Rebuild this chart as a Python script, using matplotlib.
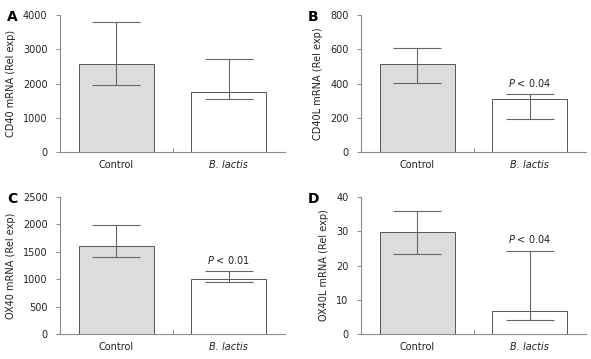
import matplotlib
matplotlib.use("Agg")
import matplotlib.pyplot as plt
import numpy as np

categories = ["Control", "B. lactis"]

# panel data: means, upper error bound, lower error bound
a_vals = [2570, 1740]
a_upper = [3800, 2720]
a_lower = [1960, 1560]

b_vals = [512, 310]
b_upper = [605, 338]
b_lower = [405, 195]

c_vals = [1610, 1010]
c_upper = [1980, 1150]
c_lower = [1410, 940]

d_vals = [29.7, 6.6]
d_upper = [36.0, 24.3]
d_lower = [23.4, 4.1]

panels = [
    ("A", "CD40 mRNA (Rel exp)", a_vals, a_upper, a_lower, 4000, [0, 1000, 2000, 3000, 4000], None),
    ("B", "CD40L mRNA (Rel exp)", b_vals, b_upper, b_lower, 800, [0, 200, 400, 600, 800], "$\\it{P}$ < 0.04"),
    ("C", "OX40 mRNA (Rel exp)", c_vals, c_upper, c_lower, 2500, [0, 500, 1000, 1500, 2000, 2500], "$\\it{P}$ < 0.01"),
    ("D", "OX40L mRNA (Rel exp)", d_vals, d_upper, d_lower, 40, [0, 10, 20, 30, 40], "$\\it{P}$ < 0.04"),
]

positions = [
    [60/591, 1-152/359, 225/591, 137/359],
    [361/591, 1-152/359, 225/591, 137/359],
    [60/591, 1-334/359, 225/591, 137/359],
    [361/591, 1-334/359, 225/591, 137/359],
]

fig = plt.figure(figsize=(5.91, 3.59), dpi=100, facecolor="white")
axis_col = "#8c8c8c"
text_col = "#222222"
bar_colors = [(0.863, 0.863, 0.863, 1.0), (1.0, 1.0, 1.0, 1.0)]

for (label, ylabel, vals, upper, lower, ymax, ticks, ptxt), pos in zip(panels, positions):
    ax = fig.add_axes(pos)
    ax.set_facecolor("white")
    x = np.arange(len(categories))
    bars = ax.bar(x, vals, width=0.667, edgecolor="#555555", linewidth=0.7, zorder=2)
    for patch, col in zip(bars.patches, bar_colors):
        patch.set_facecolor(col)
    vals_a = np.array(vals)
    yerr = np.array([vals_a - np.array(lower), np.array(upper) - vals_a])
    ax.errorbar(x, vals, yerr=yerr, fmt="none", ecolor="#666666", elinewidth=0.8,
                capsize=17, capthick=0.8, zorder=3)
    ax.set_xlim(-0.5, 1.5)
    ax.set_ylim(0, ymax)
    ax.set_yticks(ticks)
    ax.set_yticklabels([str(t) for t in ticks], fontsize=7, color=text_col)
    ax.set_xticks([0.5])
    ax.set_xticklabels([""])
    ax.tick_params(axis="x", direction="in", length=3, color=axis_col, width=0.7)
    ax.tick_params(axis="y", direction="out", length=3, color=axis_col, width=0.7, pad=6)
    for i, c in enumerate(categories):
        style = "italic" if i == 1 else "normal"
        ax.text(i, -0.055 * ymax, c, ha="center", va="top", fontsize=7,
                style=style, color=text_col)
    for s in ["top", "right"]:
        ax.spines[s].set_visible(False)
    for s in ["left", "bottom"]:
        ax.spines[s].set_color(axis_col)
        ax.spines[s].set_linewidth(0.8)
    ax.set_ylabel(ylabel, fontsize=7, color=text_col, labelpad=5)
    if ptxt:
        ax.text(1, upper[1] + 0.04 * ymax, ptxt, ha="center", va="bottom",
                fontsize=7, color=text_col)
    fig.text(pos[0] - 53/591, pos[1] + pos[3] - 0.005, label, fontsize=10,
             fontweight="bold", ha="left", va="center", color="black")

fig.savefig("out.png", dpi=100, facecolor="white")
